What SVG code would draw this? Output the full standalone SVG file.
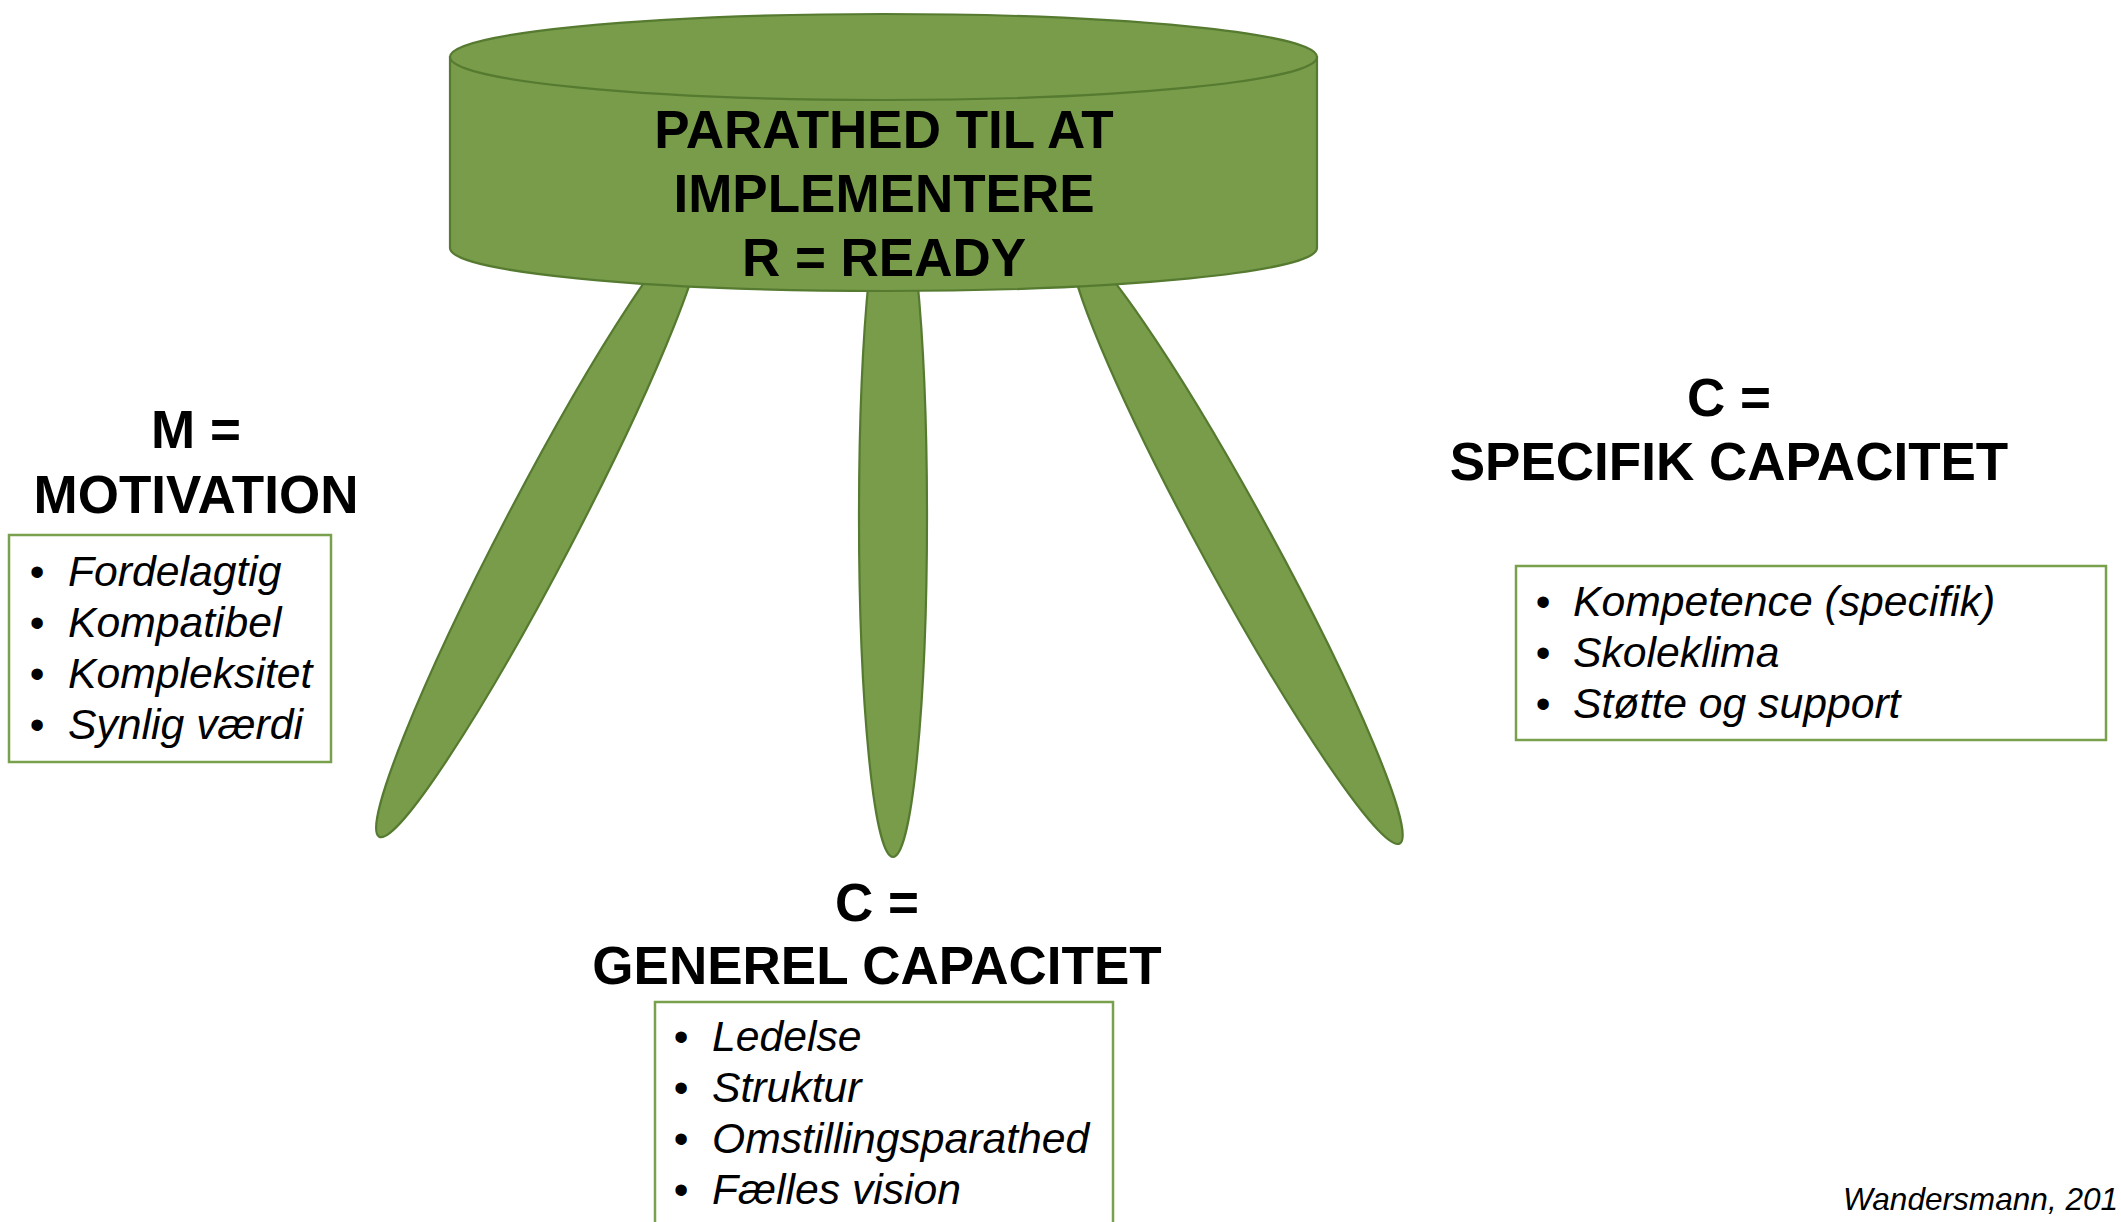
<svg xmlns="http://www.w3.org/2000/svg" width="2121" height="1222" viewBox="0 0 2121 1222">
<style>
.shape{fill:#789c4a;stroke:#557a30;stroke-width:2.2}
.box{fill:#ffffff;stroke:#79a04c;stroke-width:2.5}
.head{font-family:"Liberation Sans",Arial,sans-serif;font-weight:bold;font-size:53px;fill:#000;text-anchor:middle}
.item{font-family:"Liberation Sans",Arial,sans-serif;font-style:italic;font-size:42.7px;fill:#000}
.bul{font-family:"Liberation Sans",Arial,sans-serif;font-size:42px;fill:#000;text-anchor:middle}
.cite{font-family:"Liberation Sans",Arial,sans-serif;font-style:italic;font-size:31.6px;fill:#000}
</style>
<rect width="2121" height="1222" fill="#ffffff"/>
<g id="legs">
  <ellipse id="leg-left" class="shape" cx="539" cy="531" rx="345" ry="35" transform="rotate(-62.4 539 531)"/>
  <ellipse id="leg-middle" class="shape" cx="893" cy="517" rx="34" ry="340"/>
  <ellipse id="leg-right" class="shape" cx="1237" cy="545" rx="340" ry="35" transform="rotate(61.4 1237 545)"/>
</g>
<g id="ready">
  <path class="shape" d="M450,57 L450,248 A433.5,43 0 0 0 1317,248 L1317,57 Z"/>
  <ellipse class="shape" cx="883.5" cy="57" rx="433.5" ry="43"/>
  <text class="head" x="884" y="148">PARATHED TIL AT</text>
  <text class="head" x="884" y="212">IMPLEMENTERE</text>
  <text class="head" x="884" y="276">R = READY</text>
</g>
<g id="motivation">
  <text class="head" x="196" y="448">M =</text>
  <text class="head" x="196" y="513">MOTIVATION</text>
  <rect class="box" x="9" y="535" width="322" height="227"/>
  <text class="bul" x="37" y="586">•</text><text class="item" x="68" y="586">Fordelagtig</text>
  <text class="bul" x="37" y="637">•</text><text class="item" x="68" y="637">Kompatibel</text>
  <text class="bul" x="37" y="688">•</text><text class="item" x="68" y="688">Kompleksitet</text>
  <text class="bul" x="37" y="739">•</text><text class="item" x="68" y="739">Synlig værdi</text>
</g>
<g id="specifik">
  <text class="head" x="1729" y="416">C =</text>
  <text class="head" x="1729" y="480">SPECIFIK CAPACITET</text>
  <rect class="box" x="1516" y="566" width="590" height="174"/>
  <text class="bul" x="1543" y="616">•</text><text class="item" x="1573" y="616">Kompetence (specifik)</text>
  <text class="bul" x="1543" y="667">•</text><text class="item" x="1573" y="667">Skoleklima</text>
  <text class="bul" x="1543" y="718">•</text><text class="item" x="1573" y="718">Støtte og support</text>
</g>
<g id="generel">
  <text class="head" x="877" y="921">C =</text>
  <text class="head" x="877" y="984">GENEREL CAPACITET</text>
  <rect class="box" x="655" y="1002" width="458" height="260"/>
  <text class="bul" x="681" y="1051">•</text><text class="item" x="712" y="1051">Ledelse</text>
  <text class="bul" x="681" y="1102">•</text><text class="item" x="712" y="1102">Struktur</text>
  <text class="bul" x="681" y="1153">•</text><text class="item" x="712" y="1153">Omstillingsparathed</text>
  <text class="bul" x="681" y="1204">•</text><text class="item" x="712" y="1204">Fælles vision</text>
</g>
<g id="citation">
  <text class="cite" x="1843" y="1210">Wandersmann, 201</text>
</g>
</svg>
